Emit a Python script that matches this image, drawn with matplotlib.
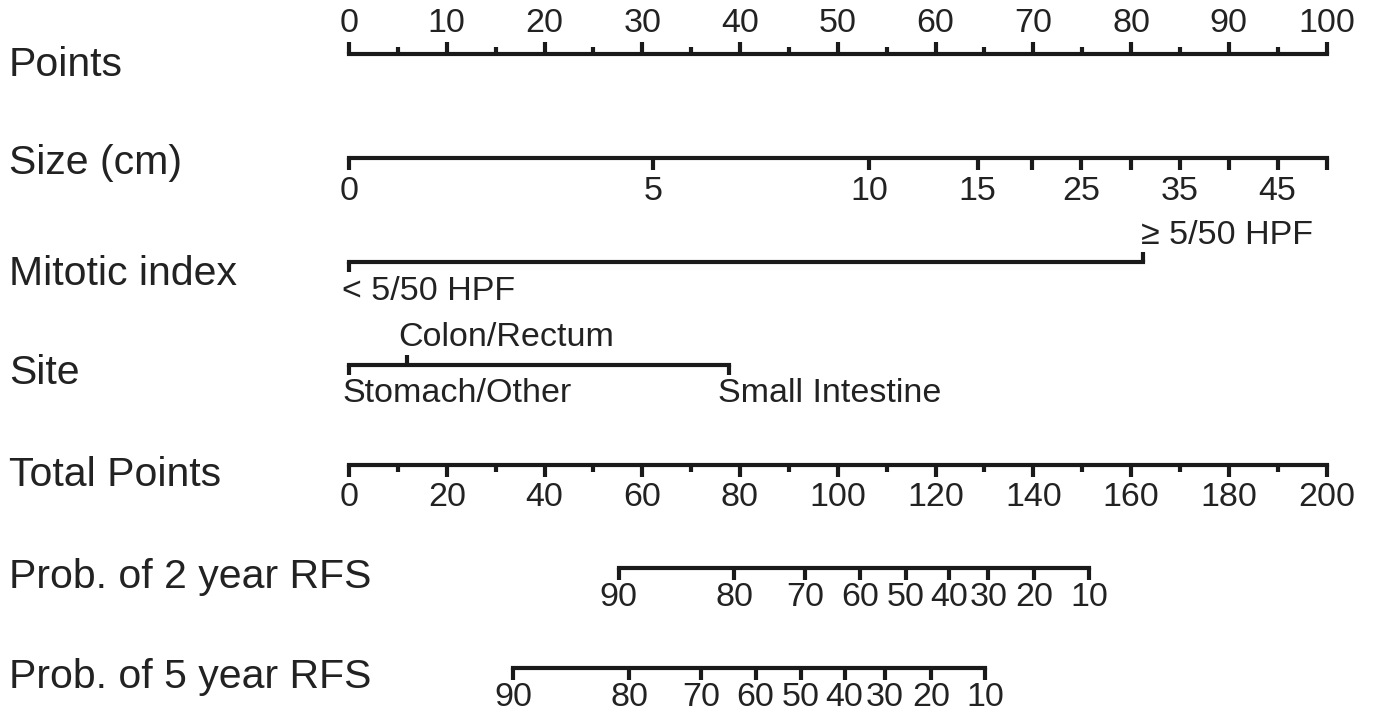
import matplotlib
matplotlib.use('Agg')
import matplotlib.pyplot as plt

# ---------------- data ----------------
row_labels = ['Points', 'Size (cm)', 'Mitotic index', 'Site', 'Total Points',
              'Prob. of 2 year RFS', 'Prob. of 5 year RFS']

points_major = list(range(0, 101, 10))
points_minor = list(range(5, 100, 10))

size_points = [0, 31.1, 53.2, 64.3, 69.9, 74.9, 80.0, 85.0, 90.0, 95.0, 100.0]
size_labels = ['0', '5', '10', '15', '', '25', '', '35', '', '45', '']

mitotic_levels = ['< 5/50 HPF', '\u2265 5/50 HPF']
mitotic_points = [0, 81.2]

site_levels = ['Stomach/Other', 'Colon/Rectum', 'Small Intestine']
site_points = [0, 5.9, 38.9]

total_major = list(range(0, 201, 20))
total_minor = list(range(10, 200, 20))

prob_levels = [90, 80, 70, 60, 50, 40, 30, 20, 10]
rfs2_total = [55.2, 78.8, 93.4, 104.6, 113.9, 122.8, 130.8, 140.2, 151.5]
rfs5_total = [33.6, 57.3, 72.1, 83.2, 92.5, 101.4, 109.7, 119.1, 130.2]

# ---------------- layout ----------------
W, H = 1373, 715
PX0, PX100 = 349, 1326.5           # pixel x of 0 and 100 points
ppp = (PX100 - PX0) / 100.0
row_y = [54, 158, 262, 365, 465, 568, 668]   # axis-line pixel y
label_y = [65, 163, 274, 373, 475, 577, 677]

LC = '#1a1a1a'
TC = '#222222'
LW = 3.0
FONT = 'Liberation Sans'
FS_LAB = 29.5
FS_TICK = 24.5

plt.rcParams['font.family'] = [FONT, 'DejaVu Sans']

fig = plt.figure(figsize=(W / 100, H / 100), dpi=100)
ax = fig.add_axes([0, 0, 1, 1])
ax.set_xlim(-PX0 / ppp, (W - PX0) / ppp)
ax.set_ylim(H, 0)
ax.axis('off')


def hline(x0, x1, y):
    ax.plot([x0, x1], [y, y], color=LC, lw=LW, solid_capstyle='projecting')


def tick(x, y, length):
    ax.plot([x, x], [y, y + length], color=LC, lw=LW, solid_capstyle='butt')


def txt(x, y, s, ha='center', va='center', fs=FS_TICK):
    ax.text(x, y, s, ha=ha, va=va, fontsize=fs, color=TC)


# row labels
lab_x = (9 - PX0) / ppp
for lab, y in zip(row_labels, label_y):
    txt(lab_x, y, lab, ha='left', fs=FS_LAB)

# Points
y = row_y[0]
hline(points_major[0], points_major[-1], y)
for v in points_major:
    tick(v, y, -12)
    txt(v, y - 31, str(v))
for v in points_minor:
    tick(v, y, -7)

# Size
y = row_y[1]
hline(size_points[0], size_points[-1], y)
for p, s in zip(size_points, size_labels):
    tick(p, y, 12)
    if s:
        txt(p, y + 34, s)

# Mitotic index
y = row_y[2]
hline(mitotic_points[0], mitotic_points[1], y)
tick(mitotic_points[0], y, 10)
tick(mitotic_points[1], y, -10)
txt(mitotic_points[0] - 0.7, y + 30, mitotic_levels[0], ha='left')
txt(mitotic_points[1] - 0.2, y - 26, mitotic_levels[1], ha='left')

# Site
y = row_y[3]
hline(site_points[0], site_points[-1], y)
tick(site_points[0], y, 10)
tick(site_points[1], y, -10)
tick(site_points[2], y, 10)
txt(site_points[0] - 0.7, y + 29, site_levels[0], ha='left')
txt(site_points[1] - 0.9, y - 27, site_levels[1], ha='left')
txt(site_points[2] - 1.1, y + 29, site_levels[2], ha='left')

# Total points
scale = 100.0 / 200.0
y = row_y[4]
hline(total_major[0] * scale, total_major[-1] * scale, y)
for v in total_major:
    tick(v * scale, y, 12)
    txt(v * scale, y + 32, str(v))
for v in total_minor:
    tick(v * scale, y, 7)

# Probabilities
for row, totals in ((5, rfs2_total), (6, rfs5_total)):
    y = row_y[row]
    hline(totals[0] * scale, totals[-1] * scale, y)
    for t, p in zip(totals, prob_levels):
        tick(t * scale, y, 12)
        txt(t * scale, y + 30, str(p))

fig.savefig('out.png', dpi=100)
